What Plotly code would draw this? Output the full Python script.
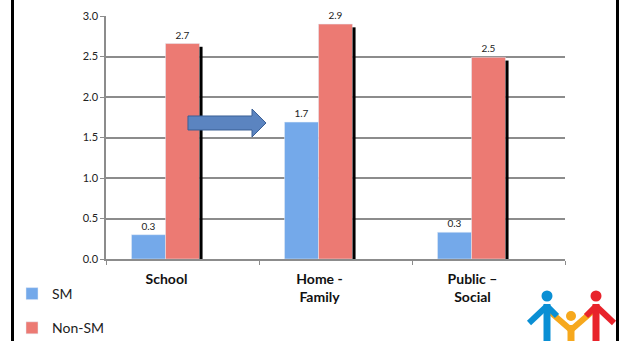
import plotly.graph_objects as go

categories = ["School", "Home -<br>Family", "Public –<br>Social"]
sm_values = [0.30, 1.69, 0.33]
nonsm_values = [2.66, 2.90, 2.49]
series_names = ["SM", "Non-SM"]
y_ticks = [0.0, 0.5, 1.0, 1.5, 2.0, 2.5, 3.0]

W, H = 619, 341
L, R, T, B = 106, 54, 16, 82
PW, PH = W - L - R, H - T - B


def px(x):
    return (x - L) / PW


def py(y):
    return (H - B - y) / PH


FONT = "Lato, 'Open Sans', sans-serif"
SM_COLOR = "#74a9ea"
NS_COLOR = "#ec7a73"

fig = go.Figure()
fig.add_bar(x=categories, y=sm_values, name=series_names[0], marker_color=SM_COLOR,
            texttemplate="%{y:.1f}", textposition="outside", legendgroup="a",
            textfont=dict(size=10, color="#222", family=FONT), cliponaxis=False)
fig.add_bar(x=categories, y=nonsm_values, name=series_names[1], marker_color=NS_COLOR,
            texttemplate="%{y:.1f}", textposition="outside", legendgroup="b",
            textfont=dict(size=10, color="#222", family=FONT), cliponaxis=False)
# empty third series (reserves space as in the original grouped layout)
fig.add_bar(x=categories, y=[None, None, None], showlegend=False, hoverinfo="skip")

shapes = []
# black shadow on the right edge of Non-SM bars
bw = (1 - 0.3333) / 3
for i, v in enumerate(nonsm_values):
    shapes.append(dict(type="rect", xref="x", yref="y", x0=i + bw / 2, x1=i + bw / 2 + 0.02,
                       y0=0, y1=v - 0.04, fillcolor="black", line_width=0, layer="above"))

# blue arrow
pts = [(188, 116), (252, 116), (252, 109), (266, 123), (252, 137), (252, 130), (188, 130)]
path = "M" + " L".join(f"{px(x):.4f},{py(y):.4f}" for x, y in pts) + " Z"
shapes.append(dict(type="path", xref="paper", yref="paper", path=path,
                   fillcolor="#5b84c0", line=dict(color="#3a5f95", width=1), layer="above"))

# slide borders
for xb in (12.5, 617.5):
    shapes.append(dict(type="line", xref="paper", yref="paper", x0=px(xb), x1=px(xb),
                       y0=py(0), y1=py(H), line=dict(color="black", width=3)))

# logo
def circle(cx, cy, r, color):
    return dict(type="circle", xref="paper", yref="paper", x0=px(cx - r), x1=px(cx + r),
                y0=py(cy + r), y1=py(cy - r), fillcolor=color, line_width=0)


def seg(x0, y0, x1, y1, color, w=6):
    return dict(type="line", xref="paper", yref="paper", x0=px(x0), y0=py(y0),
                x1=px(x1), y1=py(y1), line=dict(color=color, width=w))


BLUE, ORANGE, RED = "#0a8fd4", "#f6a81d", "#e8232b"
shapes += [
    seg(548, 310, 571, 330, ORANGE), seg(594, 310, 571, 330, ORANGE),
    seg(571, 325, 571, 341, ORANGE, 7),
    circle(571, 316, 5, ORANGE),
    seg(547, 304, 547, 341, BLUE, 7), seg(547, 306, 529, 323, BLUE), seg(547, 306, 557, 316, BLUE),
    circle(547, 296, 5.5, BLUE),
    seg(596, 304, 596, 341, RED, 7), seg(596, 306, 614, 323, RED), seg(596, 306, 586, 316, RED),
    circle(596, 296, 5.5, RED),
]

fig.update_layout(
    width=W, height=H, margin=dict(l=L, r=R, t=T, b=B, autoexpand=False),
    paper_bgcolor="white", plot_bgcolor="white",
    barmode="group", bargap=0.3333, bargroupgap=0,
    font=dict(family=FONT, color="#222"),
    shapes=shapes,
    legend=dict(xref="container", yref="container", x=12 / W, xanchor="left",
                y=1 - 278 / H, yanchor="top",
                font=dict(size=14, color="#222", family=FONT),
                traceorder="grouped", tracegroupgap=13, bgcolor="rgba(0,0,0,0)"),
    xaxis=dict(type="category", showline=True, linecolor="#8c8c8c", linewidth=1.5,
               ticks="outside", tickson="boundaries", ticklen=4, tickcolor="#8c8c8c",
               tickfont=dict(size=14, color="#111", family="Lato, sans-serif", weight="bold"),
               ticklabelshift=-16, ticklabelstandoff=6, showgrid=False, automargin=False),
    yaxis=dict(range=[0, 3], tickvals=y_ticks, tickformat=".1f", showline=True,
               linecolor="#8c8c8c", linewidth=1.5, ticks="outside", ticklen=4,
               tickcolor="#8c8c8c", showgrid=True, gridcolor="#8c8c8c", gridwidth=1.5,
               tickfont=dict(size=11, color="#222", family=FONT), zeroline=False,
               automargin=False),
)

fig.write_html("out.html")
